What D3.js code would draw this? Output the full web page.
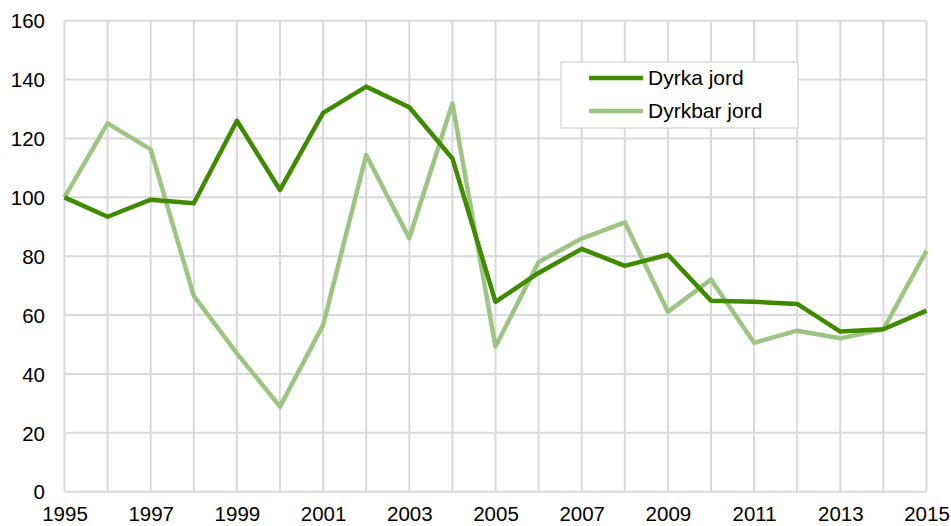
<!DOCTYPE html>
<html><head><meta charset="utf-8">
<script src="https://cdn.jsdelivr.net/npm/d3@7"></script>
<style>body{margin:0;background:#fff}svg{display:block}text{font-family:"Liberation Sans",Arial,sans-serif;fill:#000}</style>
</head><body><svg id="c" width="951" height="526"></svg>
<script>
const years = d3.range(1995, 2016);
const seriesNames = ["Dyrka jord", "Dyrkbar jord"];
const dyrkaJord = [100, 93.4, 99.2, 98.0, 126.0, 102.5, 128.7, 137.6, 130.6, 113.2, 64.5, 74.3, 82.5, 76.7, 80.5, 64.9, 64.5, 63.8, 54.4, 55.2, 61.5];
const dyrkbarJord = [100, 125.1, 116.3, 66.5, 47.0, 28.9, 56.6, 114.4, 86.1, 131.9, 49.3, 78.0, 86.0, 91.5, 61.1, 72.1, 50.6, 54.7, 52.1, 55.2, 81.8];
const yTicks = [0, 20, 40, 60, 80, 100, 120, 140, 160];
const xTickYears = d3.range(1995, 2016, 2);
const colors = ["#3f8b00", "#9cc584"];

const svg = d3.select("#c");
const m = {l: 64.5, r: 926.5, t: 20.7, b: 491.7};
const x = d3.scaleLinear().domain([1995, 2015]).range([m.l, m.r]);
const y = d3.scaleLinear().domain([0, 160]).range([m.b, m.t]);

// grid
const g = svg.append("g");
g.selectAll("line.h").data(yTicks).enter().append("line")
  .attr("x1", m.l).attr("x2", m.r).attr("y1", d => y(d)).attr("y2", d => y(d))
  .attr("stroke", "#d9d9d9").attr("stroke-width", 2);
g.selectAll("line.v").data(years).enter().append("line")
  .attr("y1", m.t).attr("y2", m.b).attr("x1", d => x(d)).attr("x2", d => x(d))
  .attr("stroke", "#d9d9d9").attr("stroke-width", 2);

// axes labels
const yAxis = d3.axisLeft(y).tickValues(yTicks).tickSize(0).tickPadding(0);
const ya = svg.append("g").attr("transform", `translate(${m.l - 19.5},0)`).call(yAxis);
ya.select(".domain").remove();
ya.selectAll("text").style("font-size", "20.5px").attr("font-family", null).attr("fill", "#000").attr("dy", "0.35em");

const xAxis = d3.axisBottom(x).tickValues(xTickYears).tickFormat(d3.format("d")).tickSize(0).tickPadding(0);
const xa = svg.append("g").attr("transform", `translate(0,${m.b + 15})`).call(xAxis);
xa.select(".domain").remove();
xa.selectAll("text").style("font-size", "20.5px").attr("font-family", null).attr("fill", "#000").attr("dy", "0.71em");

// lines
const line = d3.line().x((d, i) => x(years[i])).y(d => y(d));
[dyrkbarJord, dyrkaJord].forEach((s, k) => {
  svg.append("path").datum(s).attr("d", line).attr("fill", "none")
    .attr("stroke", colors[1 - k]).attr("stroke-width", 4.5).attr("stroke-linejoin", "round");
});

// legend
const lg = svg.append("g");
lg.append("rect").attr("x", 561).attr("y", 62).attr("width", 237).attr("height", 66)
  .attr("fill", "#fff").attr("stroke", "#d9d9d9").attr("stroke-width", 1.5);
seriesNames.forEach((n, i) => {
  const yy = 78 + i * 33;
  lg.append("line").attr("x1", 589).attr("x2", 643).attr("y1", yy).attr("y2", yy)
    .attr("stroke", colors[i]).attr("stroke-width", 4.5);
  lg.append("text").attr("x", 648).attr("y", yy).attr("dy", "0.35em").style("font-size", "21px").text(n);
});
</script></body></html>
